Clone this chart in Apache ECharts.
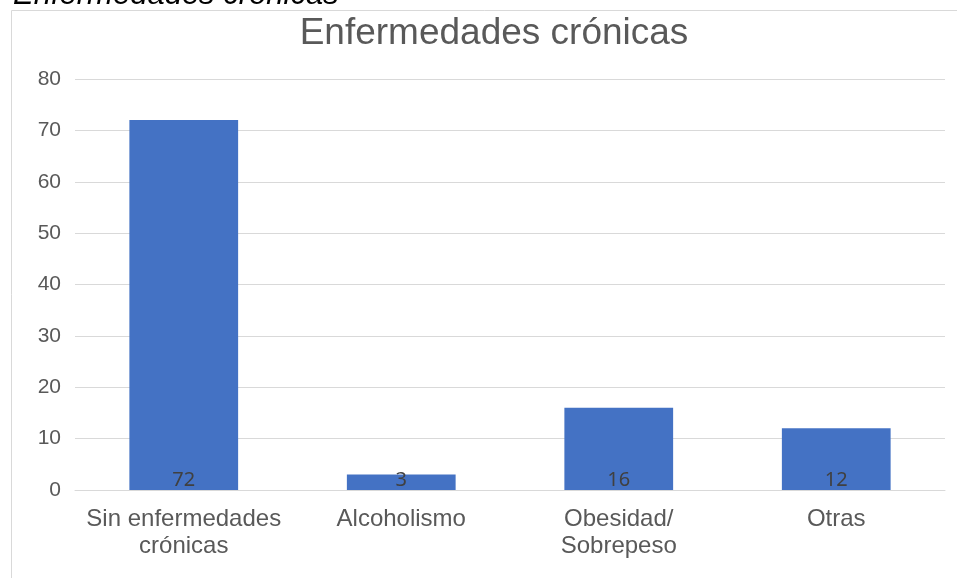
<!DOCTYPE html>
<html>
<head>
<meta charset="utf-8">
<script src="https://cdn.jsdelivr.net/npm/echarts@6/dist/echarts.min.js"></script>
<style>
  html, body { margin: 0; padding: 0; background: #fff; }
  #chart { width: 957px; height: 578px; }
</style>
</head>
<body>
<div id="chart"></div>
<script>
// datos
var categorias = ["Sin enfermedades\ncrónicas", "Alcoholismo", "Obesidad/\nSobrepeso", "Otras"];
var valores = [72, 3, 16, 12];
var ejeY = [0, 10, 20, 30, 40, 50, 60, 70, 80];

var chart = echarts.init(document.getElementById("chart"));

chart.setOption({
  animation: false,
  textStyle: { fontFamily: "Liberation Sans" },
  title: {
    text: "Enfermedades crónicas",
    left: 489,
    textAlign: "center",
    top: 10,
    textStyle: { fontSize: 37, fontWeight: "normal", color: "#595959" },
  },
  graphic: [
    // caption cut off at the top
    {
      type: "text",
      x: 13,
      y: 11,
      style: {
        text: "Enfermedades crónicas",
        fontSize: 31,
        fontStyle: "italic",
        fontFamily: "Liberation Sans",
        fill: "#000",
        verticalAlign: "bottom",
      },
    },
    // chart frame
    {
      type: "polyline",
      shape: { points: [[11.5, 578], [11.5, 10.5], [957, 10.5]] },
      style: { stroke: "#d9d9d9", lineWidth: 1, fill: null },
    },
  ],
  grid: { left: 75, right: 12, top: 79, bottom: 88 },
  xAxis: {
    type: "category",
    data: categorias,
    axisLine: { lineStyle: { color: "#d9d9d9" } },
    axisTick: { show: false },
    axisLabel: {
      color: "#595959",
      fontSize: 24,
      lineHeight: 27,
      margin: 16,
      interval: 0,
    },
  },
  yAxis: {
    type: "value",
    min: 0,
    max: ejeY[ejeY.length - 1],
    interval: 10,
    axisLine: { show: false },
    axisTick: { show: false },
    splitLine: { lineStyle: { color: "#d9d9d9" } },
    axisLabel: { color: "#595959", fontSize: 21, margin: 14 },
  },
  series: [
    {
      type: "bar",
      data: valores,
      barWidth: "50%",
      itemStyle: { color: "#4472c4" },
      label: {
        show: true,
        position: "insideBottom",
        distance: 0,
        color: "#404040",
        fontSize: 20,
        fontFamily: "Noto Sans",
      },
    },
  ],
});
</script>
</body>
</html>
